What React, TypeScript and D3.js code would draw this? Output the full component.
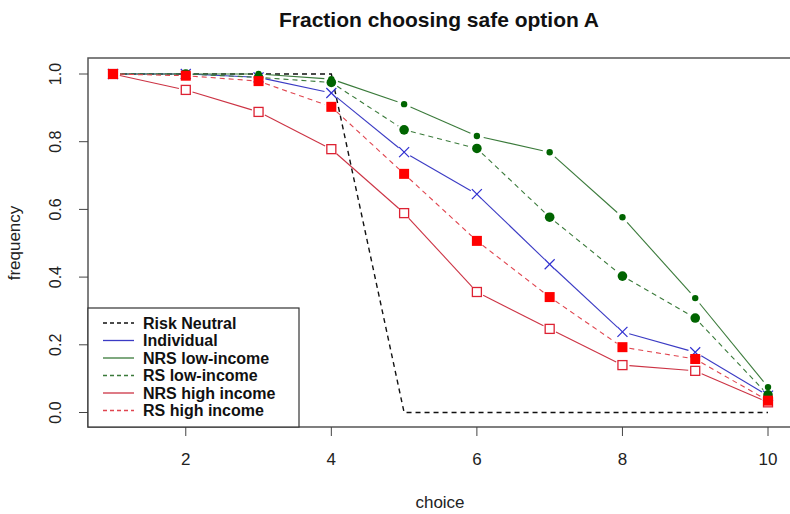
import React from 'react';
import * as d3 from 'd3';

const choices = [1, 2, 3, 4, 5, 6, 7, 8, 9, 10];
const riskNeutral = [1, 1, 1, 1, 0, 0, 0, 0, 0, 0];
const individual = [1.0, 1.0, 0.99, 0.944, 0.769, 0.645, 0.438, 0.238, 0.178, 0.05];
const nrsLow = [1.0, 1.0, 1.0, 0.985, 0.911, 0.817, 0.769, 0.577, 0.338, 0.075];
const rsLow = [1.0, 1.0, 0.99, 0.975, 0.835, 0.78, 0.577, 0.403, 0.279, 0.052];
const nrsHigh = [1.0, 0.953, 0.888, 0.778, 0.589, 0.356, 0.247, 0.14, 0.123, 0.03];
const rsHigh = [1.0, 0.995, 0.979, 0.903, 0.705, 0.507, 0.341, 0.193, 0.158, 0.035];

const xTicks = [2, 4, 6, 8, 10];
const yTicks = [0, 0.2, 0.4, 0.6, 0.8, 1.0];

type Marker = 'none' | 'x' | 'dot' | 'bigdot' | 'opensq' | 'sq';

interface Series {
  name: string;
  values: number[];
  color: string;
  markColor: string;
  dash: string;
  marker: Marker;
}

const series: Series[] = [
  { name: 'Risk Neutral', values: riskNeutral, color: '#111', markColor: '#111', dash: '5,4', marker: 'none' },
  { name: 'Individual', values: individual, color: '#3b3bc4', markColor: '#3030d0', dash: '', marker: 'x' },
  { name: 'NRS low-income', values: nrsLow, color: '#3a7a3a', markColor: '#006400', dash: '', marker: 'dot' },
  { name: 'RS low-income', values: rsLow, color: '#3a7a3a', markColor: '#006400', dash: '5,4', marker: 'bigdot' },
  { name: 'NRS high income', values: nrsHigh, color: '#cc3344', markColor: '#dd2233', dash: '', marker: 'opensq' },
  { name: 'RS high income', values: rsHigh, color: '#e0454f', markColor: '#ff0000', dash: '5,4', marker: 'sq' },
];

const W = 790;
const H = 514;
const box = { left: 88, right: 794, top: 58, bottom: 427 };

const x = d3.scaleLinear().domain([1, 10]).range([113, 768]);
const y = d3.scaleLinear().domain([0, 1]).range([412.5, 74]);

function drawMarker(m: Marker, cx: number, cy: number, color: string, key: string) {
  switch (m) {
    case 'x':
      return (
        <g key={key} stroke={color} strokeWidth={1.2}>
          <line x1={cx - 5} y1={cy - 5} x2={cx + 5} y2={cy + 5} />
          <line x1={cx - 5} y1={cy + 5} x2={cx + 5} y2={cy - 5} />
        </g>
      );
    case 'dot':
      return <circle key={key} cx={cx} cy={cy} r={3.2} fill={color} />;
    case 'bigdot':
      return <circle key={key} cx={cx} cy={cy} r={4.8} fill={color} />;
    case 'opensq':
      return <rect key={key} x={cx - 4.5} y={cy - 4.5} width={9} height={9} fill="white" stroke={color} strokeWidth={1.3} />;
    case 'sq':
      return <rect key={key} x={cx - 5} y={cy - 5} width={10} height={10} fill={color} />;
    default:
      return null;
  }
}

// R "type=b": segments stop short of each point
function gapSegments(vals: number[], gap: number) {
  const segs: { x1: number; y1: number; x2: number; y2: number }[] = [];
  for (let i = 0; i < vals.length - 1; i++) {
    const ax = x(choices[i]), ay = y(vals[i]);
    const bx = x(choices[i + 1]), by = y(vals[i + 1]);
    const len = Math.hypot(bx - ax, by - ay);
    if (len <= 2 * gap) continue;
    const ux = (bx - ax) / len, uy = (by - ay) / len;
    segs.push({ x1: ax + ux * gap, y1: ay + uy * gap, x2: bx - ux * gap, y2: by - uy * gap });
  }
  return segs;
}

const App: React.FC = () => {
  const line = d3.line<number>().x((_, i) => x(choices[i])).y(d => y(d));
  const font = "'Liberation Sans', Arial, sans-serif";
  const legendY0 = 323;
  const legendStep = 17.5;

  return (
    <svg width={W} height={H} style={{ position: 'absolute', left: 0, top: 0, background: 'white' }} fontFamily={font}>
      <text x={439} y={27} textAnchor="middle" fontSize={21} fontWeight="bold" fill="#111">
        Fraction choosing safe option A
      </text>

      {series.map(s =>
        s.marker === 'none' ? (
          <path key={s.name} d={line(s.values) || ''} fill="none" stroke={s.color} strokeWidth={1.4} strokeDasharray={s.dash} />
        ) : (
          <g key={s.name} stroke={s.color} strokeWidth={1.1} strokeDasharray={s.dash}>
            {gapSegments(s.values, 7).map((g, i) => (
              <line key={i} {...g} />
            ))}
          </g>
        )
      )}

      {series.map(s =>
        s.values.map((v, i) => drawMarker(s.marker, x(choices[i]), y(v), s.markColor, `${s.name}-${i}`))
      )}

      <rect x={box.left} y={box.top} width={box.right - box.left} height={box.bottom - box.top} fill="none" stroke="#555" strokeWidth={1.5} />

      {xTicks.map(t => (
        <g key={t} transform={`translate(${x(t)},${box.bottom})`}>
          <line y2={9} stroke="#444" strokeWidth={1} />
          <text y={38} textAnchor="middle" fontSize={17} fill="#222">{t}</text>
        </g>
      ))}

      {yTicks.map(t => (
        <g key={t} transform={`translate(${box.left},${y(t)})`}>
          <line x2={-9} stroke="#444" strokeWidth={1} />
          <text transform="translate(-27,0) rotate(-90)" textAnchor="middle" fontSize={16} fill="#222">
            {t.toFixed(1)}
          </text>
        </g>
      ))}

      <text x={440} y={508} textAnchor="middle" fontSize={17} fill="#222">choice</text>
      <text transform="translate(20,243) rotate(-90)" textAnchor="middle" fontSize={17} fill="#222">
        frequency
      </text>

      <rect x={box.left} y={308} width={299 - box.left} height={box.bottom - 308} fill="white" stroke="#333" strokeWidth={1.2} />
      {series.map((s, i) => {
        const ly = legendY0 + i * legendStep;
        return (
          <g key={s.name}>
            <line x1={103} x2={134} y1={ly} y2={ly} stroke={s.color} strokeWidth={1.3} strokeDasharray={s.dash ? '4,3' : ''} />
            <text x={143} y={ly + 5.5} fontSize={16} fontWeight="bold" fill="#111">{s.name}</text>
          </g>
        );
      })}
    </svg>
  );
};

export default App;
